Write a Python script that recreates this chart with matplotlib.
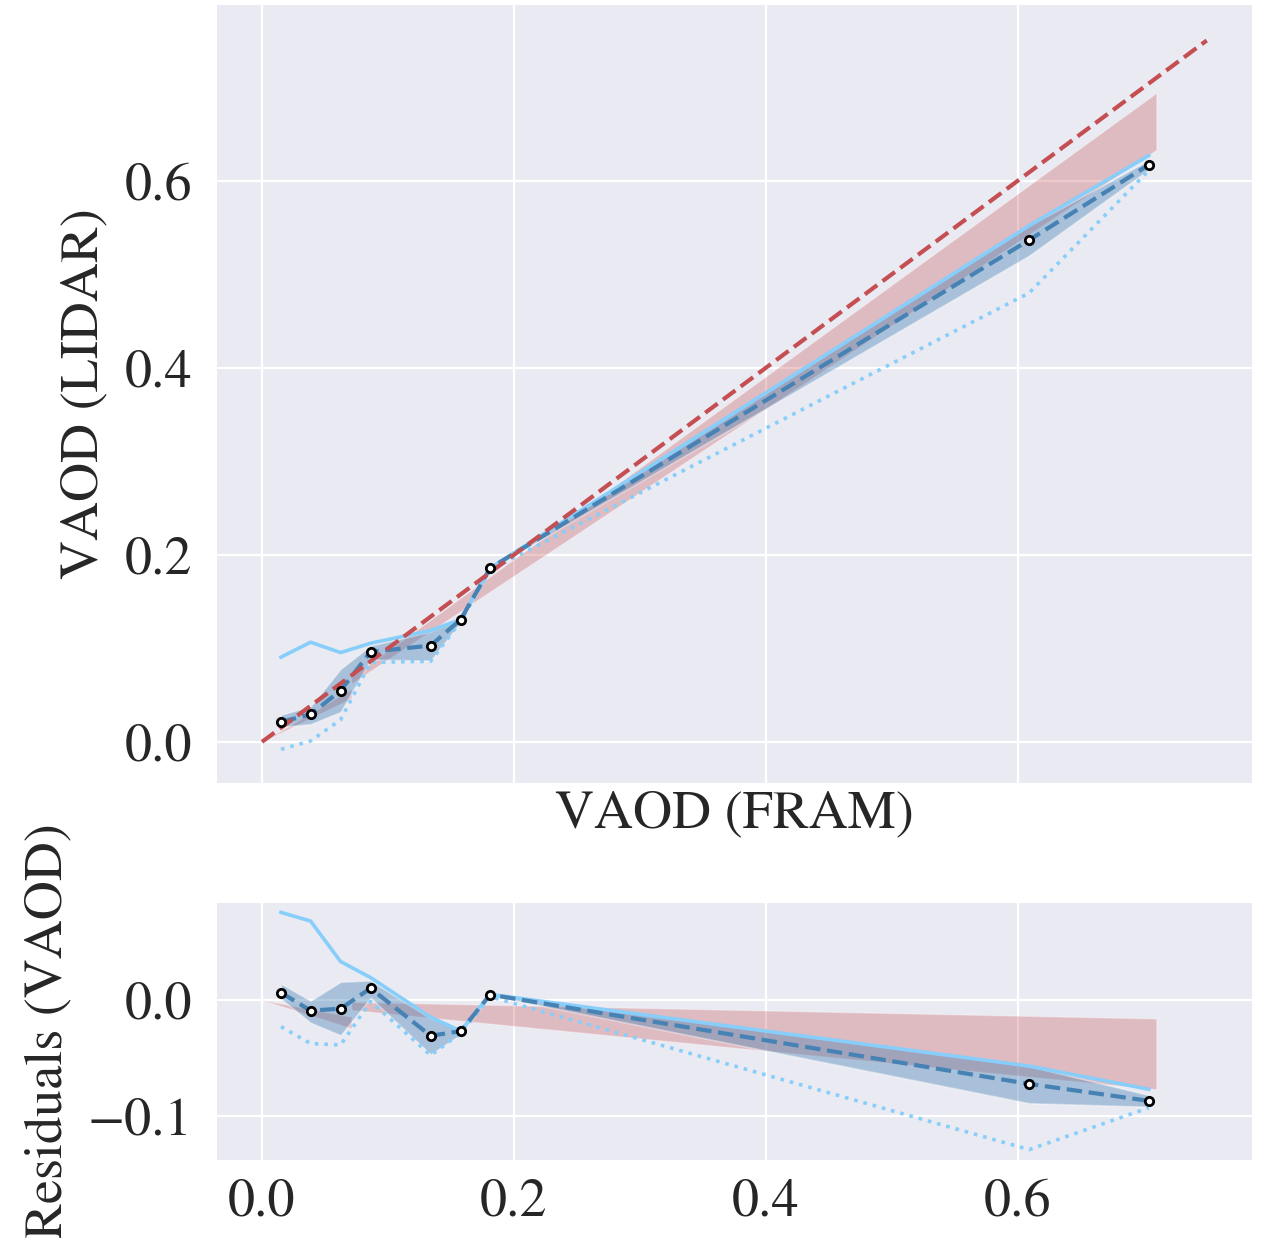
import numpy as np
import matplotlib
matplotlib.use("Agg")
import matplotlib.pyplot as plt

plt.rcParams['font.family'] = ['STIXGeneral', 'Liberation Serif', 'DejaVu Serif']
plt.rcParams['mathtext.fontset'] = 'stix'
plt.rcParams['font.size'] = 39
plt.rcParams['axes.unicode_minus'] = True
plt.rcParams['text.color'] = '.15'
plt.rcParams['axes.labelcolor'] = '.15'
plt.rcParams['xtick.color'] = '.15'
plt.rcParams['ytick.color'] = '.15'

# binned VAOD values
x = [0.0151, 0.0386, 0.0624, 0.0862, 0.1339, 0.1577, 0.1812, 0.609, 0.704]
mean = [0.0214, 0.0294, 0.0549, 0.0963, 0.1030, 0.1308, 0.1858, 0.5366, 0.617]
band_hi = [0.029, 0.038, 0.078, 0.103, 0.118, 0.132, 0.186, 0.552, 0.622]
band_lo = [0.016, 0.019, 0.032, 0.088, 0.087, 0.128, 0.185, 0.520, 0.612]
solid = [0.0906, 0.1066, 0.0955, 0.1055, 0.119, 0.131, 0.186, 0.552, 0.627]
dotted = [-0.0079, 0.0010, 0.0236, 0.0850, 0.0862, 0.129, 0.184, 0.480, 0.611]

# fit confidence band
fit_x = [0.0, 0.071, 0.071, 0.71]
fit_lo = [0.0, 0.0466, 0.0624, 0.633]
fit_hi = [0.0, 0.0566, 0.0693, 0.694]

# one-to-one line
one_x = [0.0, 0.75]

x = np.array(x)
fit_x = np.array(fit_x)

bg = '#EAEAF2'
red = '#C44E52'
blue = '#4682B4'
light = '#87CEFA'

fig = plt.figure(figsize=(12.61, 12.38), dpi=100)
ax1 = fig.add_axes([0.1721, 0.3675, 0.8208, 0.6285])
ax2 = fig.add_axes([0.1721, 0.0630, 0.8208, 0.2076])


def draw(ax, res):
    sub = x if res else 0 * x
    fsub = fit_x if res else 0 * fit_x
    ax.set_facecolor(bg)
    for s in ax.spines.values():
        s.set_visible(False)
    ax.grid(True, color='white', lw=1.6)
    ax.set_axisbelow(True)
    ax.fill_between(fit_x, np.array(fit_lo) - fsub, np.array(fit_hi) - fsub,
                    facecolor=red, edgecolor='white', lw=1, alpha=0.3, zorder=2)
    ax.fill_between(x, np.array(band_lo) - sub, np.array(band_hi) - sub,
                    facecolor=blue, edgecolor='white', lw=1.2, alpha=0.4, zorder=3)
    ax.plot(x, np.array(solid) - sub, color=light, lw=2.6, zorder=4)
    ax.plot(x, np.array(dotted) - sub, color=light, lw=2.6, ls=':', zorder=4)
    ax.plot(x, np.array(mean) - sub, color=blue, lw=3, ls='--', zorder=5)
    if not res:
        ax.plot(one_x, one_x, color=red, lw=3, ls='--', zorder=6)
    ax.plot(x, np.array(mean) - sub, ls='none', marker='o', ms=6,
            mfc='white', mec='black', mew=2, zorder=7)
    ax.tick_params(length=0)
    ax.set_xlim(-0.0357, 0.786)
    ax.set_xticks([0.0, 0.2, 0.4, 0.6])


draw(ax1, False)
draw(ax2, True)

ax1.set_ylim(-0.044, 0.788)
ax1.set_yticks([0.0, 0.2, 0.4, 0.6])
ax1.tick_params(axis='x', labelbottom=False)
ax1.tick_params(axis='y', pad=18)
ax1.set_xlabel('VAOD (FRAM)', labelpad=5)
ax1.set_ylabel('VAOD (LIDAR)', labelpad=11)

ax2.set_ylim(-0.138, 0.0836)
ax2.set_yticks([-0.1, 0.0])
ax2.tick_params(axis='y', pad=18)
ax2.tick_params(axis='x', pad=13)
ax2.set_ylabel('Residuals (VAOD)', labelpad=10)

fig.savefig('out.png', dpi=100)
